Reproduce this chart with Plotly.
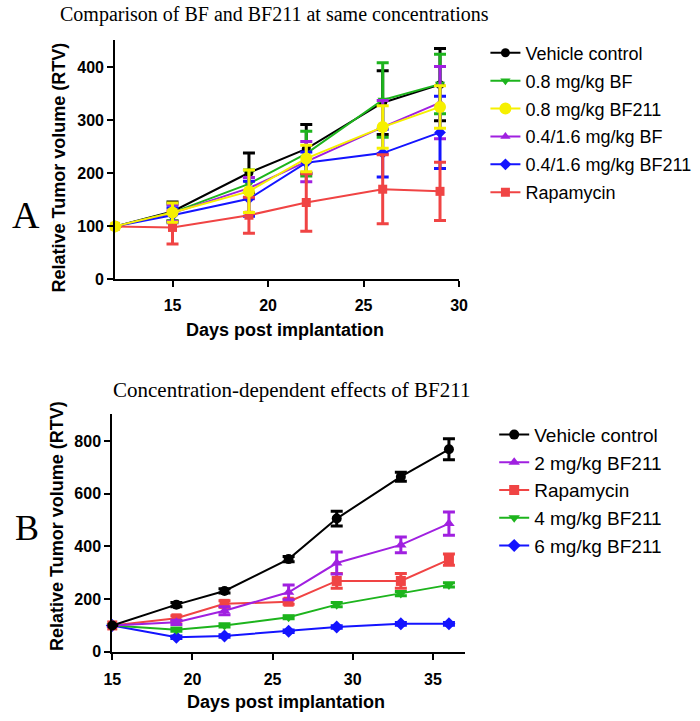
import plotly.graph_objects as go

W, H = 700, 721

# ---------------- Panel A data ----------------
days_a = [12, 15, 19, 22, 26, 29]
a_names = ["Vehicle control", "0.8 mg/kg BF", "0.8 mg/kg BF211",
           "0.4/1.6 mg/kg BF", "0.4/1.6 mg/kg BF211", "Rapamycin"]
a_vehicle = [100, 128, 201, 246, 333, 367]
a_vehicle_err = [0, 18, 37, 46, 60, 68]
a_bf08 = [100, 126, 180, 237, 338, 368]
a_bf08_err = [0, 16, 26, 42, 70, 56]
a_bf211_08 = [100, 126, 166, 228, 287, 325]
a_bf211_08_err = [0, 18, 40, 25, 40, 40]
a_bf_0416 = [100, 125, 172, 222, 287, 333]
a_bf_0416_err = [0, 16, 20, 38, 50, 68]
a_bf211_0416 = [100, 121, 152, 220, 238, 277]
a_bf211_0416_err = [0, 14, 33, 20, 45, 68]
a_rapa = [100, 98, 121, 145, 170, 166]
a_rapa_err = [0, 31, 34, 54, 65, 55]

# ---------------- Panel B data ----------------
days_b = [15, 19, 22, 26, 29, 33, 36]
b_names = ["Vehicle control", "2 mg/kg BF211", "Rapamycin",
           "4 mg/kg BF211", "6 mg/kg BF211"]
b_vehicle = [100, 179, 231, 352, 506, 665, 769]
b_vehicle_err = [0, 8, 8, 10, 28, 17, 40]
b_bf211_2 = [100, 112, 156, 226, 337, 406, 487]
b_bf211_2_err = [0, 8, 15, 28, 42, 30, 44]
b_rapa = [100, 127, 182, 190, 269, 269, 350]
b_rapa_err = [0, 10, 12, 10, 28, 28, 21]
b_bf211_4 = [100, 84, 100, 131, 179, 221, 254]
b_bf211_4_err = [0, 6, 6, 6, 8, 8, 8]
b_bf211_6 = [100, 55, 60, 78, 94, 106, 106]
b_bf211_6_err = [0, 5, 5, 5, 5, 5, 5]

BLACK = "#000000"
GREEN = "#1db41d"
YELLOW = "#f6f000"
PURPLE = "#a020e0"
BLUE = "#1414ff"
RED = "#f04444"

fig = go.Figure()

a_series = [
    (a_names[0], a_vehicle, a_vehicle_err, BLACK, "circle", 9, 1),
    (a_names[1], a_bf08, a_bf08_err, GREEN, "triangle-down", 9, 2),
    (a_names[3], a_bf_0416, a_bf_0416_err, PURPLE, "triangle-up", 9, 4),
    (a_names[4], a_bf211_0416, a_bf211_0416_err, BLUE, "diamond", 9, 5),
    (a_names[5], a_rapa, a_rapa_err, RED, "square", 9, 6),
    (a_names[2], a_bf211_08, a_bf211_08_err, YELLOW, "circle", 12, 3),
]
for name, ys, errs, col, sym, size, rank in a_series:
    fig.add_trace(go.Scatter(
        x=days_a, y=ys, name=name, mode="lines+markers",
        line=dict(color=col, width=2),
        marker=dict(color=col, symbol=sym, size=size),
        error_y=dict(type="data", array=errs, color=col, thickness=3, width=6),
        xaxis="x", yaxis="y", legend="legend", legendrank=rank,
        legendgroup="a" + str(rank), cliponaxis=False))

b_series = [
    (b_names[4], b_bf211_6, b_bf211_6_err, BLUE, "diamond", 10, 5),
    (b_names[3], b_bf211_4, b_bf211_4_err, GREEN, "triangle-down", 10, 4),
    (b_names[2], b_rapa, b_rapa_err, RED, "square", 10, 3),
    (b_names[1], b_bf211_2, b_bf211_2_err, PURPLE, "triangle-up", 10, 2),
    (b_names[0], b_vehicle, b_vehicle_err, BLACK, "circle", 10, 1),
]
for name, ys, errs, col, sym, size, rank in b_series:
    fig.add_trace(go.Scatter(
        x=days_b, y=ys, name=name, mode="lines+markers",
        line=dict(color=col, width=2),
        marker=dict(color=col, symbol=sym, size=size),
        error_y=dict(type="data", array=errs, color=col, thickness=3, width=6),
        xaxis="x2", yaxis="y2", legend="legend2", legendrank=rank,
        cliponaxis=False))

tickfont = dict(family="Liberation Sans, Arial", size=16, color="black", weight="bold")
axis_common = dict(showline=True, linewidth=2, linecolor="black", ticks="outside",
                   ticklen=6, tickwidth=2, tickcolor="black", showgrid=False,
                   zeroline=False, tickfont=tickfont)

def px_x(p):
    return p / W

def px_y(p):
    return 1 - p / H

fig.update_layout(
    width=W, height=H, margin=dict(l=0, r=0, t=0, b=0),
    paper_bgcolor="white", plot_bgcolor="white", showlegend=True,
    xaxis=dict(domain=[px_x(109), px_x(462)], range=[12, 30],
               tickvals=[15, 20, 25, 30], anchor="y", ticklabelstandoff=4, **axis_common),
    yaxis=dict(domain=[px_y(283), px_y(40)], range=[0, 452],
               tickvals=[0, 100, 200, 300, 400], anchor="x", **axis_common),
    xaxis2=dict(domain=[px_x(106), px_x(468)], range=[15, 37],
                tickvals=[15, 20, 25, 30, 35], anchor="y2", ticklabelstandoff=6, **axis_common),
    yaxis2=dict(domain=[px_y(660), px_y(419)], range=[0, 904],
                tickvals=[0, 200, 400, 600, 800], anchor="x2", **axis_common),
    legend=dict(x=px_x(489), y=px_y(35), xanchor="left", yanchor="top",
                font=dict(family="Liberation Sans, Arial", size=18, color="black"),
                bgcolor="rgba(0,0,0,0)", itemwidth=30, traceorder="grouped",
                tracegroupgap=1.5),
    legend2=dict(x=px_x(498), y=px_y(421), xanchor="left", yanchor="top",
                 font=dict(family="Liberation Sans, Arial", size=19, color="black"),
                 bgcolor="rgba(0,0,0,0)", itemwidth=30, traceorder="normal"),
)

serif = "Liberation Serif, Times New Roman, serif"
sans = "Liberation Sans, Arial"
annotations = [
    dict(text="Comparison of BF and BF211 at same concentrations", x=px_x(272), y=px_y(15),
         font=dict(family=serif, size=20, color="black")),
    dict(text="Concentration-dependent effects of BF211", x=px_x(290), y=px_y(395),
         font=dict(family=serif, size=21, color="black")),
    dict(text="A", x=px_x(17), y=px_y(218), font=dict(family=serif, size=38, color="black")),
    dict(text="B", x=px_x(18), y=px_y(535), font=dict(family=serif, size=36, color="black")),
    dict(text="Relative Tumor volume (RTV)", x=px_x(51), y=px_y(170), textangle=-90,
         font=dict(family=sans, size=18, color="black", weight="bold")),
    dict(text="Relative Tumor volume (RTV)", x=px_x(50), y=px_y(533), textangle=-90,
         font=dict(family=sans, size=18, color="black", weight="bold")),
    dict(text="Days post implantation", x=px_x(283), y=px_y(334),
         font=dict(family=sans, size=18, color="black", weight="bold")),
    dict(text="Days post implantation", x=px_x(284), y=px_y(711),
         font=dict(family=sans, size=18, color="black", weight="bold")),
]
for a in annotations:
    a.update(xref="paper", yref="paper", showarrow=False, xanchor="center", yanchor="middle")
fig.update_layout(annotations=annotations)

fig.write_html("out.html", config={"displayModeBar": False},
               post_script="document.body.style.margin='0px';")
